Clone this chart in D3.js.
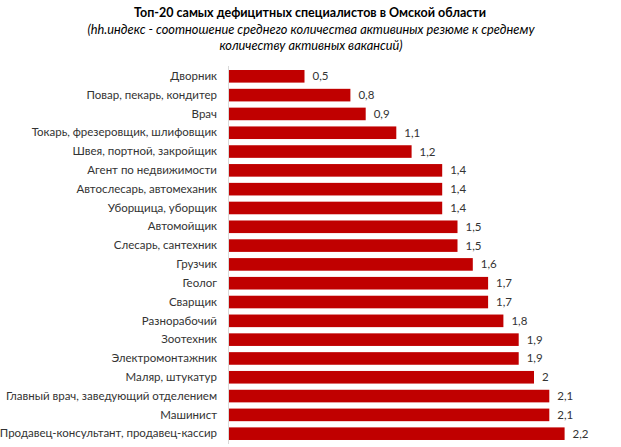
<!DOCTYPE html>
<html>
<head>
<meta charset="utf-8">
<script src="https://cdn.jsdelivr.net/npm/d3@7"></script>
<style>
  body { margin: 0; background: #fff; }
  svg { font-family: Lato, "Open Sans", sans-serif; }
</style>
</head>
<body>
<svg id="chart"></svg>
<script>
// categories, top to bottom
const categories = [
    'Дворник',
    'Повар, пекарь, кондитер',
    'Врач',
    'Токарь, фрезеровщик, шлифовщик',
    'Швея, портной, закройщик',
    'Агент по недвижимости',
    'Автослесарь, автомеханик',
    'Уборщица, уборщик',
    'Автомойщик',
    'Слесарь, сантехник',
    'Грузчик',
    'Геолог',
    'Сварщик',
    'Разнорабочий',
    'Зоотехник',
    'Электромонтажник',
    'Маляр, штукатур',
    'Главный врач, заведующий отделением',
    'Машинист',
    'Продавец-консультант, продавец-кассир'
];
const values = [0.5, 0.8, 0.9, 1.1, 1.2, 1.4, 1.4, 1.4, 1.5, 1.5, 1.6, 1.7, 1.7, 1.8, 1.9, 1.9, 2, 2.1, 2.1, 2.2];
const titleLines = [
    'Топ-20 самых дефицитных специалистов в Омской области',
    '(hh.индекс - соотношение среднего количества активиных резюме к среднему',
    'количеству активных вакансий)'
];

const svgWidth = 621;
const svgHeight = 447;
const margin = { top: 67, bottom: 4, left: 228, right: 0 };

const svg = d3.select('#chart')
    .attr('width', svgWidth)
    .attr('height', svgHeight);

const data = categories.map((c, i) => ({ name: c, value: values[i] }));

const x = d3.scaleLinear()
    .domain([0, 2.5])
    .range([margin.left, margin.left + 2.5 * 153]);
const y = d3.scaleBand()
    .domain(categories)
    .range([margin.top, margin.top + 20 * 18.8])
    .paddingInner(0.33)
    .paddingOuter(0.16);

// titles
svg.append('text')
    .attr('x', 310)
    .attr('y', 17)
    .attr('text-anchor', 'middle')
    .attr('font-size', 12.5)
    .attr('font-weight', 'bold')
    .attr('fill', '#000')
    .text(titleLines[0]);
svg.selectAll('.sub')
    .data(titleLines.slice(1))
    .enter()
    .append('text')
    .attr('class', 'sub')
    .attr('x', 311)
    .attr('y', (d, i) => 34 + i * 16)
    .attr('text-anchor', 'middle')
    .attr('font-size', 12.8)
    .attr('font-style', 'italic')
    .attr('fill', '#000')
    .text(d => d);

// bars
svg.selectAll('rect.bar')
    .data(data)
    .enter()
    .append('rect')
    .attr('class', 'bar')
    .attr('x', x(0))
    .attr('y', d => y(d.name))
    .attr('width', d => x(d.value) - x(0))
    .attr('height', y.bandwidth())
    .attr('fill', '#c00000');

// value labels
svg.selectAll('text.val')
    .data(data)
    .enter()
    .append('text')
    .attr('class', 'val')
    .attr('x', d => x(d.value) + 8)
    .attr('y', d => y(d.name) + y.bandwidth() / 2)
    .attr('dy', '0.35em')
    .attr('font-size', 11.5)
    .attr('fill', '#333')
    .text(d => d3.format('')(d.value).replace('.', ','));

// category axis
const yAxis = d3.axisLeft(y).tickSize(0).tickPadding(11);
const gY = svg.append('g')
    .attr('transform', 'translate(' + margin.left + ',0)')
    .call(yAxis);
gY.select('.domain')
    .attr('stroke', '#d9d9d9')
    .attr('d', 'M0.5,' + (margin.top - 1) + 'V' + (margin.top + 20 * 18.8 + 1));
gY.selectAll('text')
    .attr('font-size', 11.5)
    .attr('font-family', 'Lato, "Open Sans", sans-serif')
    .attr('fill', '#333');
</script>
</body>
</html>
